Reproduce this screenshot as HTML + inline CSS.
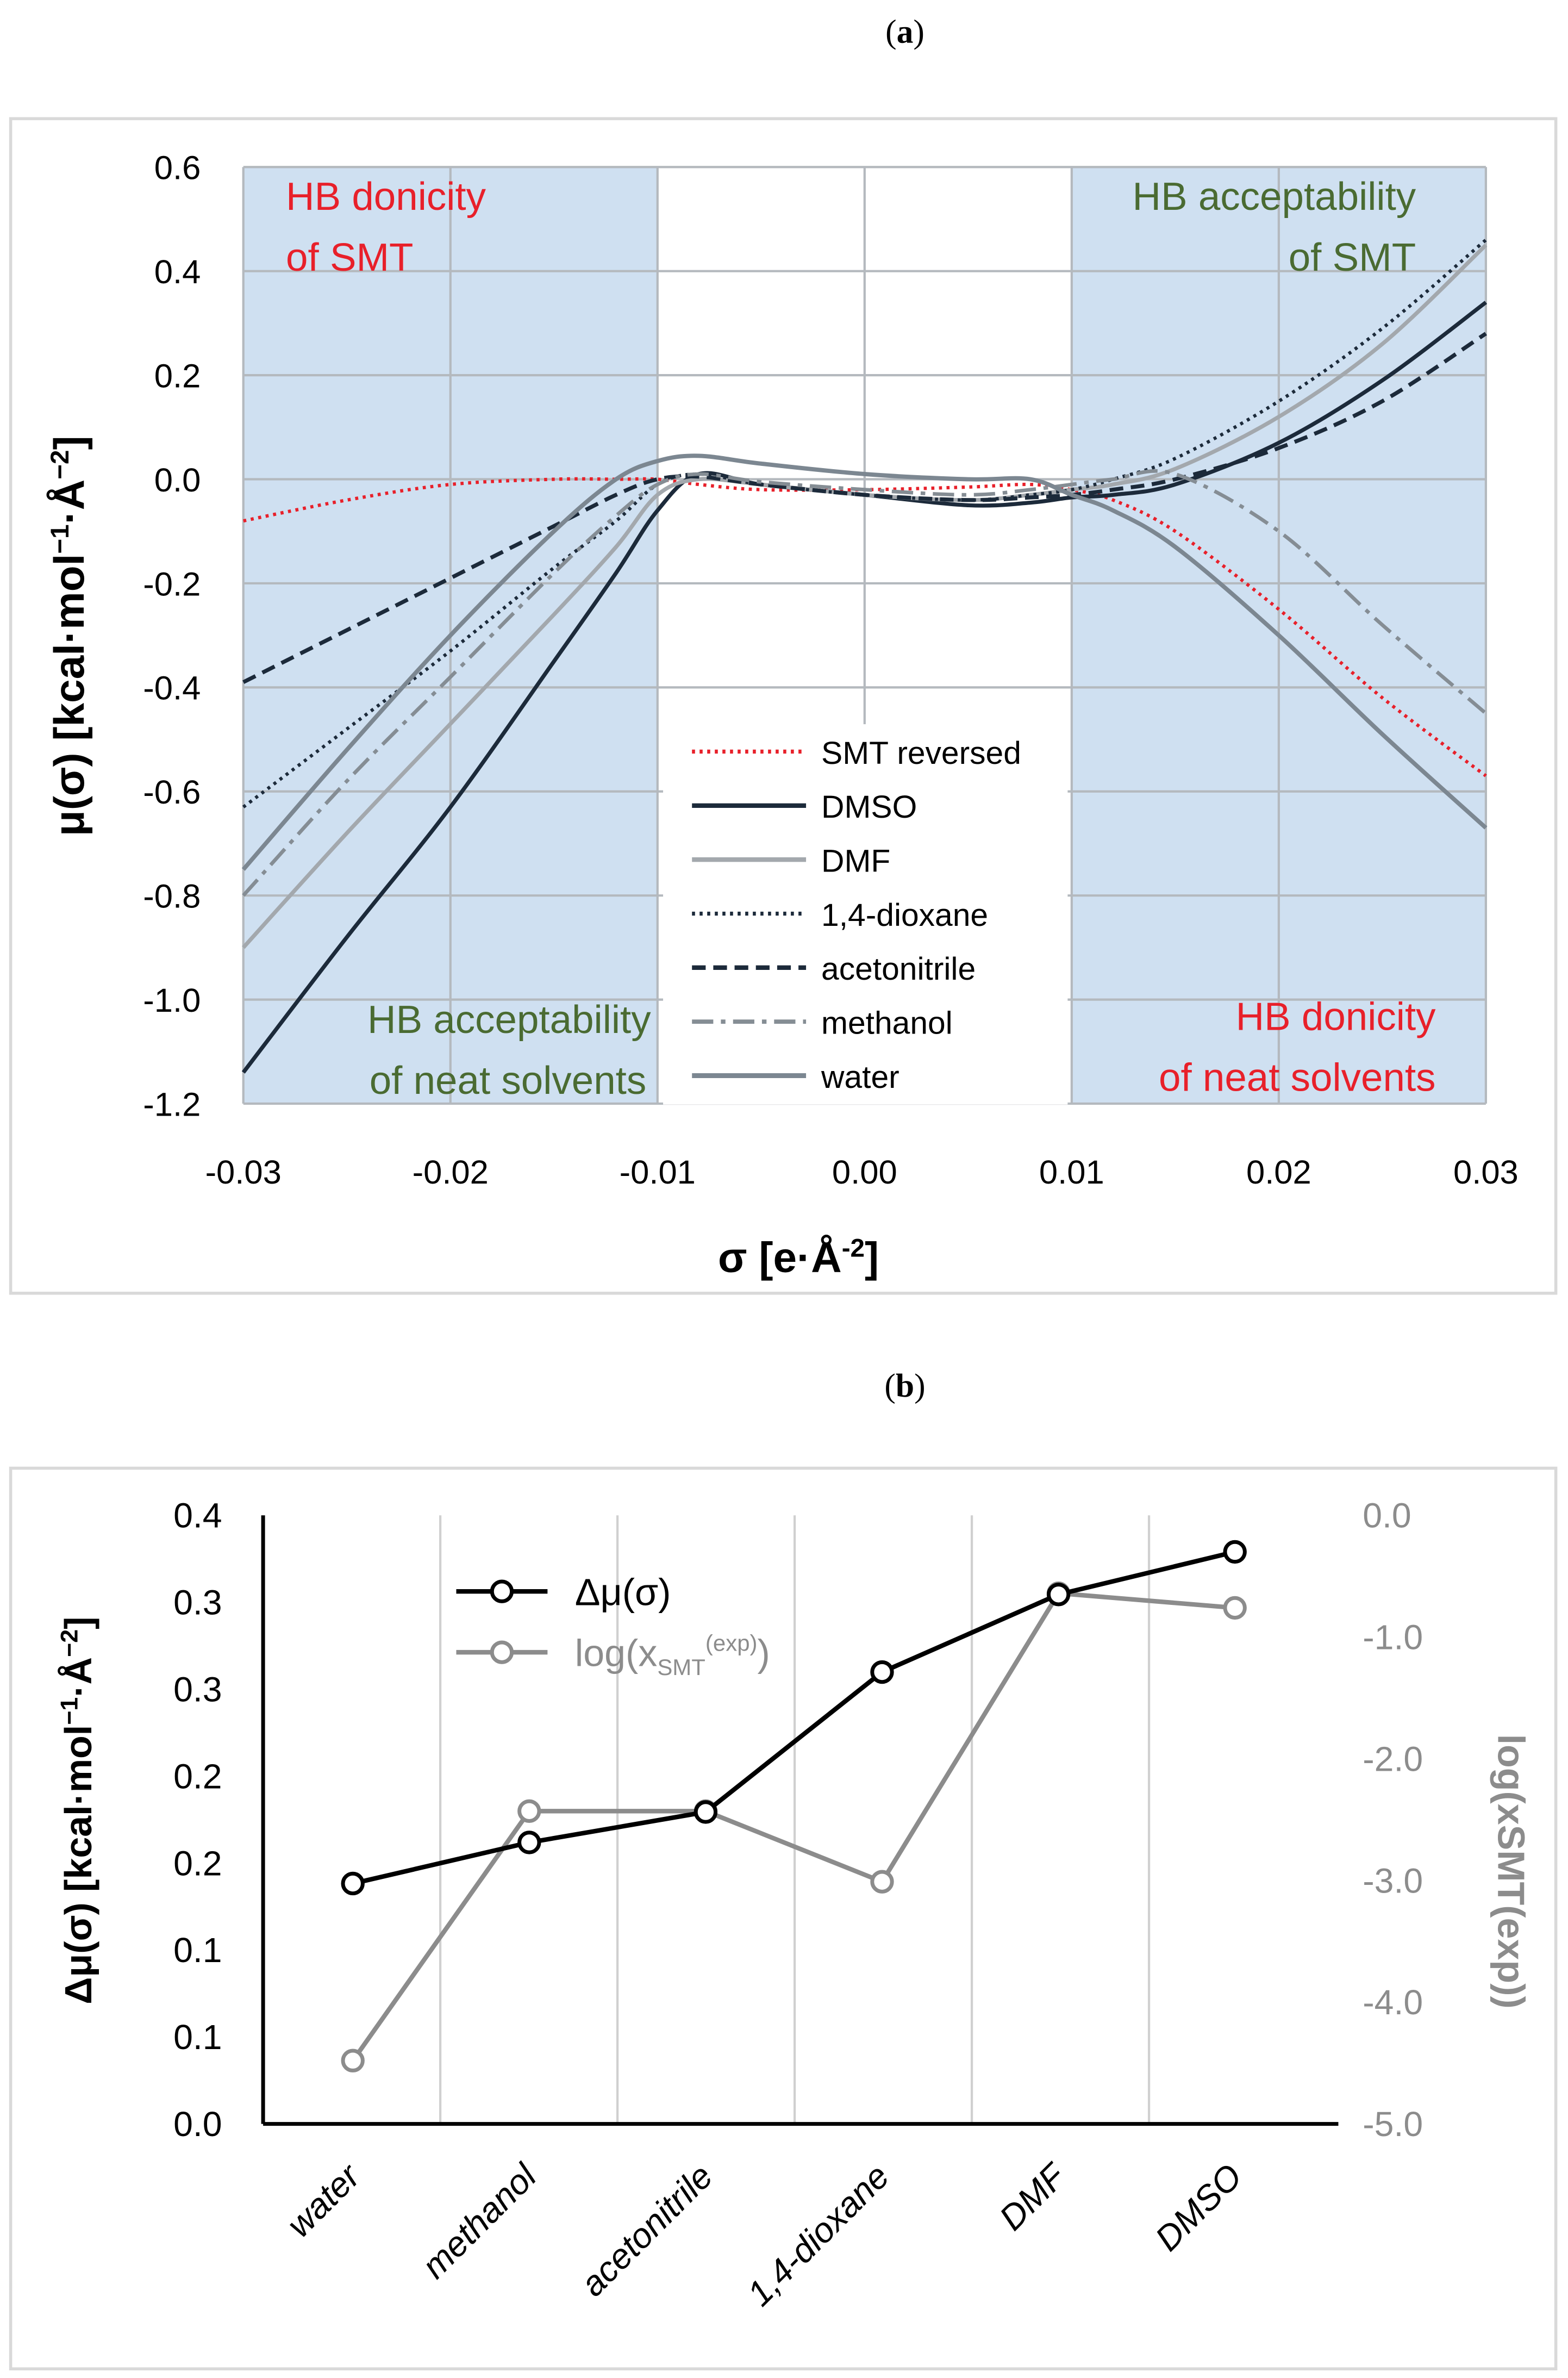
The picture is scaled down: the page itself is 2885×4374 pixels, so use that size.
<!DOCTYPE html>
<html><head><meta charset="utf-8"><style>
html,body{margin:0;padding:0;background:#fff;}
svg{display:block;font-family:"Liberation Sans",sans-serif;}
</style></head><body>
<svg id="fig" width="2885" height="4374" viewBox="0 0 1031 1563" preserveAspectRatio="none" xmlns="http://www.w3.org/2000/svg">
<text x="595" y="28" font-family="Liberation Serif" font-size="22" text-anchor="middle">(<tspan font-weight="bold">a</tspan>)</text>
<rect x="7" y="78" width="1016" height="772" fill="#fff" stroke="#d9d9d9" stroke-width="2"/>
<g id="ga"></g>
<text x="595" y="918" font-family="Liberation Serif" font-size="22" text-anchor="middle">(<tspan font-weight="bold">b</tspan>)</text>
<rect x="7" y="965" width="1016" height="592" fill="#fff" stroke="#d9d9d9" stroke-width="2"/>
<g id="gb"></g>
</svg>
<script>
const sigmas=[-0.03,-0.025,-0.02,-0.015,-0.012,-0.01,-0.008,-0.005,0,0.005,0.008,0.01,0.012,0.015,0.02,0.025,0.03];
const smtRev=[-0.08,-0.04,-0.01,0.0,0.0,0.0,-0.01,-0.02,-0.02,-0.015,-0.01,-0.02,-0.04,-0.1,-0.25,-0.42,-0.57];
const dmso=[-1.14,-0.88,-0.63,-0.35,-0.18,-0.06,0.01,-0.01,-0.03,-0.05,-0.045,-0.035,-0.03,-0.01,0.07,0.19,0.34];
const dmf=[-0.9,-0.68,-0.47,-0.26,-0.13,-0.03,0.0,-0.01,-0.03,-0.04,-0.03,-0.02,-0.01,0.02,0.12,0.26,0.45];
const dioxane=[-0.63,-0.48,-0.33,-0.17,-0.08,-0.01,0.01,-0.01,-0.03,-0.04,-0.03,-0.02,0.0,0.04,0.15,0.29,0.46];
const acetonitrile=[-0.39,-0.29,-0.19,-0.09,-0.03,0.0,0.005,-0.01,-0.03,-0.04,-0.035,-0.03,-0.02,0.0,0.06,0.15,0.28];
const methanol=[-0.8,-0.58,-0.38,-0.18,-0.07,-0.01,0.01,-0.005,-0.02,-0.03,-0.02,-0.01,0.0,0.01,-0.1,-0.28,-0.45];
const water=[-0.75,-0.52,-0.3,-0.1,0.0,0.035,0.045,0.03,0.01,0.0,0.0,-0.03,-0.06,-0.13,-0.3,-0.49,-0.67];
const xTicksA=[-0.03,-0.02,-0.01,0.00,0.01,0.02,0.03];
const yTicksA=[0.6,0.4,0.2,0.0,-0.2,-0.4,-0.6,-0.8,-1.0,-1.2];
const cats=["water","methanol","acetonitrile","1,4-dioxane","DMF","DMSO"];
const dmu=[0.158,0.185,0.205,0.297,0.348,0.376];
const logx=[-4.48,-2.43,-2.43,-3.01,-0.64,-0.76];
const yTicksBL=["0.0","0.1","0.1","0.2","0.2","0.3","0.3","0.4"];
const yTicksBR=[0,-1,-2,-3,-4,-5];

const NS="http://www.w3.org/2000/svg";
function mk(p,t,a,txt){const e=document.createElementNS(NS,t);for(const k in a)e.setAttribute(k,a[k]);if(txt!==undefined)e.textContent=txt;p.appendChild(e);return e;}
function smooth(pts){let d="M"+pts[0][0]+","+pts[0][1];for(let i=0;i<pts.length-1;i++){const p0=pts[Math.max(0,i-1)],p1=pts[i],p2=pts[i+1],p3=pts[Math.min(pts.length-1,i+2)];const c1=[p1[0]+(p2[0]-p0[0])/6,p1[1]+(p2[1]-p0[1])/6],c2=[p2[0]-(p3[0]-p1[0])/6,p2[1]-(p3[1]-p1[1])/6];d+=" C"+c1+" "+c2+" "+p2;}return d;}

// Chart A
const ga=document.getElementById('ga');
const xA=s=>160+(s+0.03)/0.06*817, yA=v=>315-v*342;
let e;
e=mk(ga,'rect',{x:xA(-0.03),y:yA(0.6),width:xA(-0.01)-xA(-0.03),height:yA(-1.2)-yA(0.6),fill:'#cfe0f1'});

e=mk(ga,'rect',{x:xA(0.01),y:yA(0.6),width:xA(0.03)-xA(0.01),height:yA(-1.2)-yA(0.6),fill:'#cfe0f1'});

xTicksA.forEach(t=>{e=mk(ga,'line',{x1:xA(t),x2:xA(t),y1:yA(0.6),y2:yA(-1.2),stroke:'#b4b9be','stroke-width':1.5});

e=mk(ga,'text',{x:xA(t),y:778,'font-size':22,'text-anchor':'middle'},t.toFixed(2));
});
yTicksA.forEach(t=>{e=mk(ga,'line',{x1:xA(-0.03),x2:xA(0.03),y1:yA(t),y2:yA(t),stroke:'#b4b9be','stroke-width':1.5});

e=mk(ga,'text',{x:132,y:yA(t)+8,'font-size':22,'text-anchor':'end'},t.toFixed(1));
});
const seriesA=[
 ["smt-reversed",smtRev,'#e8202a',2.2,'2,3'],
 ["dmso",dmso,'#1c2a3a',2.6,''],
 ["dmf",dmf,'#a3a8ad',2.6,''],
 ["dioxane",dioxane,'#1c2a3a',2.2,'2,3'],
 ["acetonitrile",acetonitrile,'#1c2a3a',2.6,'9,5'],
 ["methanol",methanol,'#858d94',2.4,'14,5,3,5'],
 ["water",water,'#7c8791',2.8,'']];
seriesA.forEach(s=>{const pts=sigmas.map((x,i)=>[xA(x),yA(s[1][i])]);
e=mk(ga,'path',{d:smooth(pts),fill:'none',stroke:s[2],'stroke-width':s[3],'stroke-dasharray':s[4]});
});
// legend
e=mk(ga,'rect',{x:436,y:476,width:266,height:250,fill:'#fff'});

const legA=[["SMT reversed",0],["DMSO",1],["DMF",2],["1,4-dioxane",3],["acetonitrile",4],["methanol",5],["water",6]];
legA.forEach((l,i)=>{const s=seriesA[l[1]];const y=494+i*35.5;
e=mk(ga,'line',{x1:455,x2:530,y1:y,y2:y,stroke:s[2],'stroke-width':s[3]+0.4,'stroke-dasharray':s[4]});

e=mk(ga,'text',{x:540,y:y+8,'font-size':21},l[0]);
});
[["HB donicity",188,138,'#e8202a','start','hb-donicity-smt'],["of SMT",188,178,'#e8202a','start','hb-donicity-smt-2'],
 ["HB acceptability",931,138,'#4a6b32','end','hb-acceptability-smt'],["of SMT",931,178,'#4a6b32','end','hb-acceptability-smt-2'],
 ["HB acceptability",428,679,'#4a6b32','end','hb-acceptability-neat'],["of neat solvents",425,719,'#4a6b32','end','hb-acceptability-neat-2'],
 ["HB donicity",944,677,'#e8202a','end','hb-donicity-neat'],["of neat solvents",944,717,'#e8202a','end','hb-donicity-neat-2']].forEach(a=>{
 e=mk(ga,'text',{x:a[1],y:a[2],'font-size':26,fill:a[3],'text-anchor':a[4]},a[0]);
 });
e=mk(ga,'text',{x:525,y:836,'font-size':28,'font-weight':'bold','text-anchor':'middle'});
e.innerHTML='σ  [e·Å<tspan dy="-10" font-size="17">-2</tspan><tspan dy="10">]</tspan>';

e=mk(ga,'text',{x:0,y:0,'font-size':28,'font-weight':'bold','text-anchor':'middle',transform:'translate(55,418) rotate(-90)'});
e.innerHTML='μ(σ)  [kcal·mol<tspan dy="-10" font-size="17">−1</tspan><tspan dy="10">·Å</tspan><tspan dy="-10" font-size="17">−2</tspan><tspan dy="10">]</tspan>';


// Chart B
const gb=document.getElementById('gb');
const xB=i=>232+i*116, yL=v=>1396-v*1000, yR=v=>996-v*80;
for(let i=1;i<6;i++){e=mk(gb,'line',{x1:173+i*116.5,x2:173+i*116.5,y1:996,y2:1396,stroke:'#d0d0d0','stroke-width':1.5});
}
e=mk(gb,'line',{x1:173,x2:173,y1:996,y2:1396,stroke:'#000','stroke-width':2.5});

e=mk(gb,'line',{x1:173,x2:880,y1:1396,y2:1396,stroke:'#000','stroke-width':2.5});

yTicksBL.forEach((t,i)=>{e=mk(gb,'text',{x:146,y:1396-i*400/7+8,'font-size':23,'text-anchor':'end'},t);
});
yTicksBR.forEach(t=>{e=mk(gb,'text',{x:896,y:yR(t)+8,'font-size':23,fill:'#8c8c8c'},t.toFixed(1));
});
cats.forEach((c,i)=>{e=mk(gb,'text',{x:0,y:0,'font-size':23,'font-style':'italic','text-anchor':'end',transform:`translate(${xB(i)+6},${1432}) rotate(-45)`},c);
});
e=mk(gb,'polyline',{points:logx.map((v,i)=>xB(i)+','+yR(v)).join(' '),fill:'none',stroke:'#8c8c8c','stroke-width':3});

logx.forEach((v,i)=>{e=mk(gb,'circle',{cx:xB(i),cy:yR(v),r:6.5,fill:'#fff',stroke:'#8c8c8c','stroke-width':2.5});
});
e=mk(gb,'polyline',{points:dmu.map((v,i)=>xB(i)+','+yL(v)).join(' '),fill:'none',stroke:'#000','stroke-width':3});

dmu.forEach((v,i)=>{e=mk(gb,'circle',{cx:xB(i),cy:yL(v),r:6.5,fill:'#fff',stroke:'#000','stroke-width':2.5});
});
e=mk(gb,'line',{x1:300,x2:360,y1:1046,y2:1046,stroke:'#000','stroke-width':3});

e=mk(gb,'circle',{cx:330,cy:1046,r:6.5,fill:'#fff',stroke:'#000','stroke-width':2.5});

e=mk(gb,'text',{x:378,y:1055,'font-size':25},'Δμ(σ)');

e=mk(gb,'line',{x1:300,x2:360,y1:1086,y2:1086,stroke:'#8c8c8c','stroke-width':3});

e=mk(gb,'circle',{cx:330,cy:1086,r:6.5,fill:'#fff',stroke:'#8c8c8c','stroke-width':2.5});

e=mk(gb,'text',{x:378,y:1095,'font-size':25,fill:'#8c8c8c'});
e.innerHTML='log(x<tspan dy="6" font-size="15">SMT</tspan><tspan dy="-16" font-size="15">(exp)</tspan><tspan dy="10">)</tspan>';

e=mk(gb,'text',{x:0,y:0,'font-size':25,'font-weight':'bold','text-anchor':'middle',transform:'translate(60,1190) rotate(-90)'});
e.innerHTML='Δμ(σ)  [kcal·mol<tspan dy="-9" font-size="16">−1</tspan><tspan dy="9">·Å</tspan><tspan dy="-9" font-size="16">−2</tspan><tspan dy="9">]</tspan>';

e=mk(gb,'text',{x:0,y:0,'font-size':25,'font-weight':'bold','text-anchor':'middle',fill:'#8c8c8c',transform:'translate(985,1230) rotate(90)'},'log(xSMT(exp))');

</script>
</body></html>
